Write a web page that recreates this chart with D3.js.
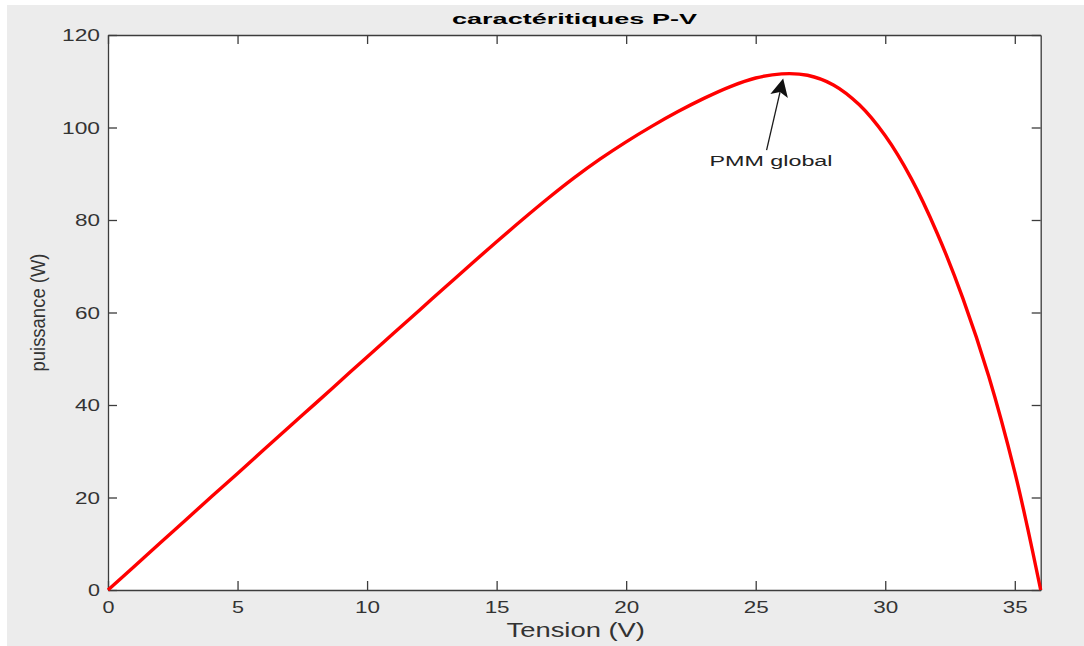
<!DOCTYPE html>
<html>
<head>
<meta charset="utf-8">
<script src="https://cdn.jsdelivr.net/npm/d3@7"></script>
<style>
  body { margin: 0; background: #ffffff; }
  svg { display: block; }
  text { font-family: "Liberation Sans", Arial, Helvetica, sans-serif; }
</style>
</head>
<body>
<svg id="chart" width="1084" height="646"></svg>
<script>
// P-V characteristic of the PV panel: voltage (V) and output power (W)
const tension = [0, 1, 2, 3, 4, 5, 6, 7, 8, 9, 10, 11, 12, 13, 14, 15, 16, 17, 18, 19, 20,
  21, 22, 23, 24, 25, 26, 27, 28, 29, 30, 31, 32, 33, 34, 35, 35.5, 36];
const puissance = [0, 5.05, 10.1, 15.15, 20.2, 25.2, 30.25, 35.3, 40.3, 45.35, 50.4,
  55.4, 60.4, 65.4, 70.4, 75.3, 80.1, 84.75, 89.15, 93.2, 96.9,
  100.3, 103.45, 106.3, 108.8, 110.7, 111.6, 111.3, 109.2, 104.9, 98.2,
  89.0, 77.2, 63.0, 46.1, 25.5, 13.25, 0];

const xTicks = [0, 5, 10, 15, 20, 25, 30, 35];
const yTicks = [0, 20, 40, 60, 80, 100, 120];
const xDomain = [0, 36];
const yDomain = [0, 120];

const titleText = "caractéritiques P-V";
const xLabelText = "Tension (V)";
const yLabelText = "puissance (W)";

// annotation arrow (data units: [V, P])
const annotationText = "PMM global";
const annotationTail = [25.42, 95.1];
const annotationHead = [26.06, 110.6];

const svg = d3.select("#chart");
const W = 1084, H = 646;
const plot = { left: 108, right: 1040.7, top: 35, bottom: 590 };

// figure background
svg.append("rect").attr("x", 0).attr("y", 0).attr("width", W).attr("height", H).attr("fill", "#ffffff");
svg.append("rect").attr("x", 7).attr("y", 5).attr("width", W - 7).attr("height", H - 5).attr("fill", "#ececec");

// axes background
svg.append("rect")
  .attr("x", plot.left).attr("y", plot.top)
  .attr("width", plot.right - plot.left).attr("height", plot.bottom - plot.top)
  .attr("fill", "#ffffff");

const x = d3.scaleLinear().domain(xDomain).range([plot.left, plot.right]);
const y = d3.scaleLinear().domain(yDomain).range([plot.bottom, plot.top]);

const axisColor = "#3c3c3c";
const labelColor = "#333333";
const tickLen = 9;
const digitWidth = { 1: 12, 2: 25, 3: 38 };

function styleAxis(g) {
  g.select(".domain").attr("stroke", axisColor).attr("stroke-width", 1.3);
  g.selectAll(".tick line").attr("stroke", axisColor).attr("stroke-width", 1.3);
}

// bottom axis with inward ticks and labels
const gx = svg.append("g")
  .attr("transform", `translate(0,${plot.bottom})`)
  .call(d3.axisBottom(x).tickValues(xTicks).tickSize(-tickLen).tickSizeOuter(0).tickFormat(d3.format("d")));
styleAxis(gx);
gx.selectAll(".tick text")
  .attr("y", 23.3).attr("dy", null)
  .attr("fill", labelColor)
  .style("font-size", "16.5px")
  .attr("text-anchor", "start")
  .each(function () {
    const s = d3.select(this);
    const w = digitWidth[s.text().length];
    s.attr("x", -w / 2).attr("textLength", w).attr("lengthAdjust", "spacingAndGlyphs");
  });

// left axis with inward ticks and labels
const gy = svg.append("g")
  .attr("transform", `translate(${plot.left},0)`)
  .call(d3.axisLeft(y).tickValues(yTicks).tickSize(-tickLen).tickSizeOuter(0).tickFormat(d3.format("d")));
styleAxis(gy);
gy.selectAll(".tick text")
  .attr("dy", null).attr("y", 5.8)
  .attr("fill", labelColor)
  .style("font-size", "16.5px")
  .attr("text-anchor", "start")
  .each(function () {
    const s = d3.select(this);
    const w = digitWidth[s.text().length];
    s.attr("x", -8 - w).attr("textLength", w).attr("lengthAdjust", "spacingAndGlyphs");
  });

// top and right axes: ticks only
const gt = svg.append("g")
  .attr("transform", `translate(0,${plot.top})`)
  .call(d3.axisTop(x).tickValues(xTicks).tickSize(-tickLen).tickSizeOuter(0).tickFormat(""));
styleAxis(gt);
const gr = svg.append("g")
  .attr("transform", `translate(${plot.right},0)`)
  .call(d3.axisRight(y).tickValues(yTicks).tickSize(-tickLen).tickSizeOuter(0).tickFormat(""));
styleAxis(gr);

// power curve
const pts = tension.map((v, i) => [v, puissance[i]]);
const line = d3.line()
  .x(d => x(d[0]))
  .y(d => y(d[1]))
  .curve(d3.curveCatmullRom.alpha(0.5));
svg.append("path")
  .datum(pts)
  .attr("d", line)
  .attr("fill", "none")
  .attr("stroke", "#ff0000")
  .attr("stroke-width", 3.4)
  .attr("stroke-linejoin", "round");

// annotation arrow
const tx = x(annotationTail[0]), ty = y(annotationTail[1]);
const hx = x(annotationHead[0]), hy = y(annotationHead[1]);
const len = Math.hypot(hx - tx, hy - ty);
const ux = (hx - tx) / len, uy = (hy - ty) / len;
const px = -uy, py = ux;
const headLen = 18, headHalf = 9, notch = 4;
const bx = hx - ux * headLen, by = hy - uy * headLen;
svg.append("line")
  .attr("x1", tx).attr("y1", ty)
  .attr("x2", bx + ux * notch).attr("y2", by + uy * notch)
  .attr("stroke", "#1a1a1a").attr("stroke-width", 1.3);
svg.append("path")
  .attr("d", `M${hx},${hy} L${bx + px * headHalf},${by + py * headHalf} L${bx + ux * notch},${by + uy * notch} L${bx - px * headHalf},${by - py * headHalf} Z`)
  .attr("fill", "#111111");

svg.append("text")
  .attr("x", 709.5).attr("y", 166)
  .attr("textLength", 123).attr("lengthAdjust", "spacingAndGlyphs")
  .style("font-size", "15.5px")
  .attr("fill", "#222222")
  .text(annotationText);

// title
svg.append("text")
  .attr("x", 452).attr("y", 23.5)
  .attr("textLength", 245).attr("lengthAdjust", "spacingAndGlyphs")
  .style("font-size", "15.5px").style("font-weight", "bold")
  .attr("fill", "#000000")
  .text(titleText);

// axis labels
svg.append("text")
  .attr("x", 506.5).attr("y", 636.7)
  .attr("textLength", 138.5).attr("lengthAdjust", "spacingAndGlyphs")
  .style("font-size", "21px")
  .attr("fill", labelColor)
  .text(xLabelText);

svg.append("text")
  .attr("transform", `translate(45,${(plot.top + plot.bottom) / 2 + 59}) rotate(-90)`)
  .attr("x", 0).attr("y", 0)
  .attr("textLength", 118).attr("lengthAdjust", "spacingAndGlyphs")
  .style("font-size", "20px")
  .attr("fill", labelColor)
  .text(yLabelText);
</script>
</body>
</html>
